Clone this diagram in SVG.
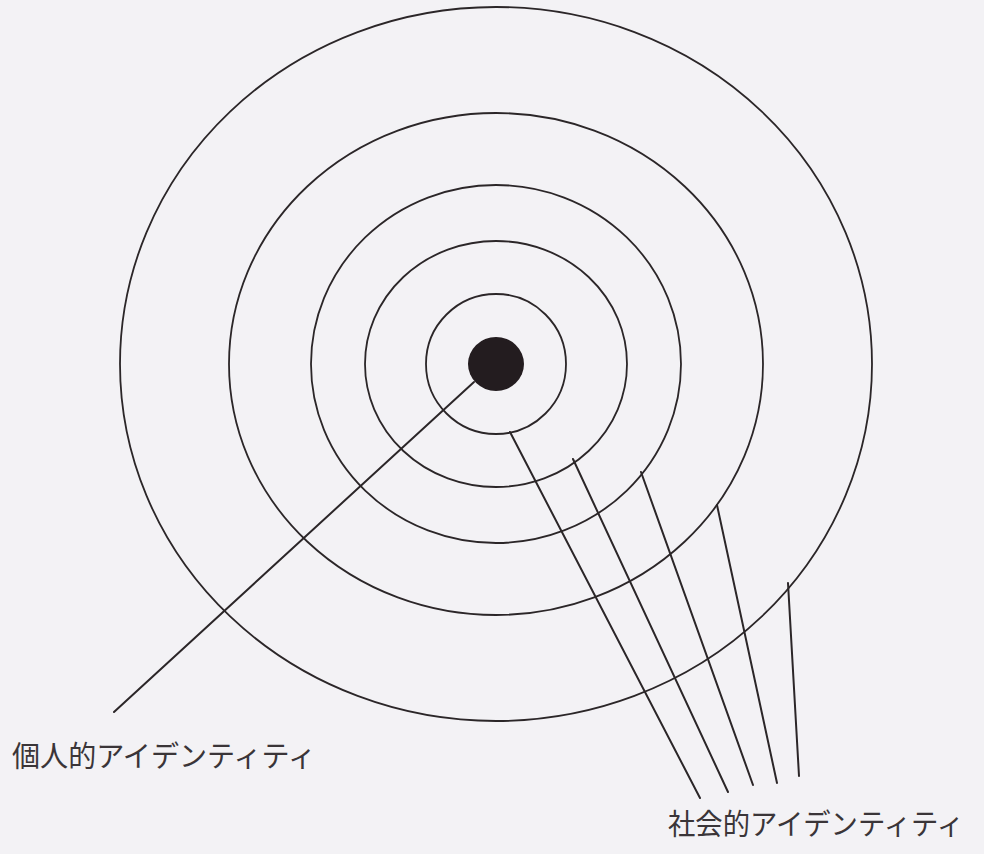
<svg xmlns="http://www.w3.org/2000/svg" width="984" height="854" viewBox="0 0 984 854">
<style>
.ring{fill:none;stroke:#2b2628;stroke-width:1.8}
.ln{stroke:#2b2628;stroke-width:2;stroke-linecap:round;fill:none}
.lbl{font-family:"Noto Sans CJK JP","Noto Sans",sans-serif;font-size:29px;fill:#3a3538}
</style>
<rect width="984" height="854" fill="#f3f2f5"/>
<g id="rings">
<ellipse id="ring1" class="ring" cx="496" cy="364" rx="376" ry="357"/>
<ellipse id="ring2" class="ring" cx="496" cy="364" rx="267" ry="251"/>
<ellipse id="ring3" class="ring" cx="496" cy="364" rx="185" ry="179"/>
<ellipse id="ring4" class="ring" cx="496" cy="364" rx="131" ry="123"/>
<ellipse id="ring5" class="ring" cx="496" cy="364" rx="70" ry="70"/>
</g>
<g id="core"><ellipse cx="496" cy="364" rx="28" ry="27" fill="#231c1f"/></g>
<g id="connectors">
<line class="ln" x1="474" y1="382" x2="114" y2="712"/>
<line class="ln" x1="510" y1="432" x2="700" y2="798"/>
<line class="ln" x1="573" y1="459" x2="728" y2="792"/>
<line class="ln" x1="641" y1="472" x2="753" y2="785"/>
<line class="ln" x1="717" y1="505" x2="777" y2="783"/>
<line class="ln" x1="788" y1="583" x2="799" y2="776"/>
</g>
<g id="label-personal"><text class="lbl" x="12" y="767" textLength="304" lengthAdjust="spacingAndGlyphs">個人的アイデンティティ</text></g>
<g id="label-social"><text class="lbl" x="668" y="835" textLength="296" lengthAdjust="spacingAndGlyphs">社会的アイデンティティ</text></g>
</svg>
